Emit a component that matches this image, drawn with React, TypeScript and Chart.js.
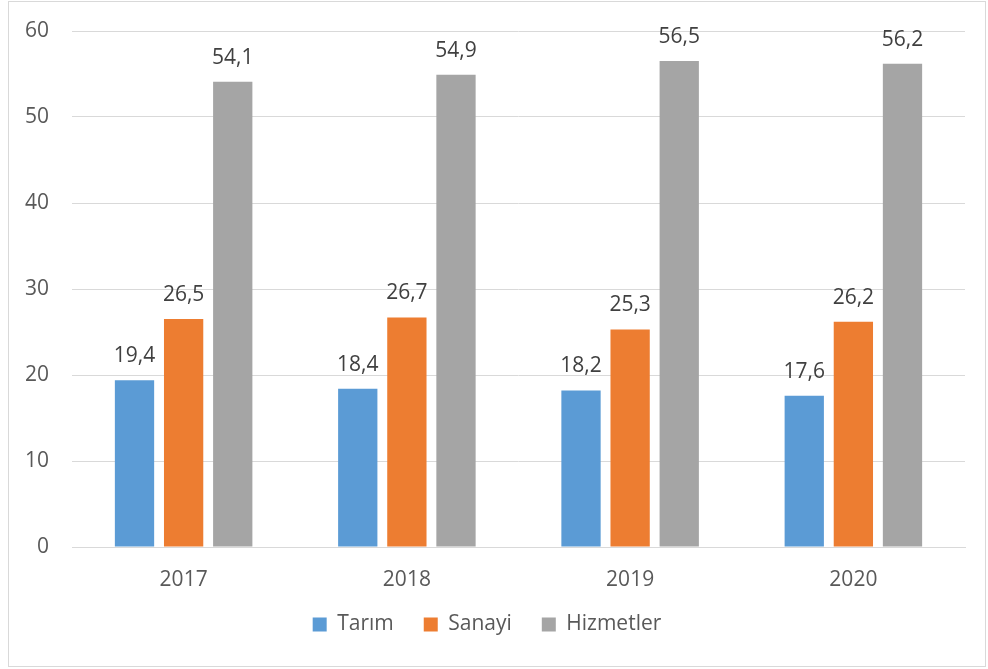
import React, { useEffect, useRef } from "react";
import { Chart, registerables } from "chart.js";

Chart.register(...registerables);

const categories = ["2017", "2018", "2019", "2020"];
const tarim = [19.4, 18.4, 18.2, 17.6];
const sanayi = [26.5, 26.7, 25.3, 26.2];
const hizmetler = [54.1, 54.9, 56.5, 56.2];
const seriesNames = ["Tarım", "Sanayi", "Hizmetler"];
const seriesColors = ["#5B9BD5", "#ED7D31", "#A5A5A5"];

const FONT = "'Open Sans', 'Noto Sans', sans-serif";

const dataLabels = {
  id: "dataLabels",
  afterDatasetsDraw(chart: any) {
    const ctx = chart.ctx;
    ctx.save();
    ctx.font = `21px ${FONT}`;
    ctx.fillStyle = "#404040";
    ctx.textAlign = "center";
    ctx.textBaseline = "alphabetic";
    chart.data.datasets.forEach((ds: any, i: number) => {
      const meta = chart.getDatasetMeta(i);
      meta.data.forEach((bar: any, j: number) => {
        const v = ds.data[j];
        ctx.fillText(String(v).replace(".", ","), bar.x, bar.y - 18);
      });
    });
    ctx.restore();
  },
};

// widen the x-axis label clip box after layout so labels aren't cut off
const unclipX = {
  id: "unclipX",
  beforeDraw(chart: any) {
    const x = chart.scales.x;
    x.bottom = x.top + 70;
  },
};

export default function App() {
  const ref = useRef<HTMLCanvasElement>(null);
  useEffect(() => {
    document.body.style.margin = "0";
    const chart = new Chart(ref.current!, {
      type: "bar",
      data: {
        labels: categories,
        datasets: [tarim, sanayi, hizmetler].map((d, i) => ({
          label: seriesNames[i],
          data: d,
          backgroundColor: seriesColors[i],
          categoryPercentage: 0.66,
          barPercentage: 0.8,
        })),
      },
      options: {
        animation: false,
        responsive: false,
        layout: { padding: { top: 29, right: 20, left: 0, bottom: 21 } },
        plugins: {
          legend: {
            position: "bottom",
            labels: {
              boxWidth: 14,
              boxHeight: 14,
              padding: 30,
              color: "#595959",
              font: { family: FONT, size: 21 },
            },
          },
          tooltip: { enabled: false },
        },
        scales: {
          x: {
            afterFit(scale: any) {
              scale.height = 37;
              scale.paddingLeft = 0;
              scale.paddingRight = 0;
            },
            grid: { display: false, drawTicks: false },
            border: { display: true, color: "#d9d9d9", width: 1 },
            ticks: { color: "#595959", font: { family: FONT, size: 21 }, padding: 20 },
          },
          y: {
            min: 0,
            max: 60,
            afterFit(scale: any) {
              scale.width = 63;
              scale.paddingTop = 0;
              scale.paddingBottom = 0;
            },
            grid: { color: "#d9d9d9", drawTicks: false, lineWidth: 1 },
            border: { display: false },
            ticks: {
              stepSize: 10,
              color: "#595959",
              font: { family: FONT, size: 21 },
              padding: 23,
            },
          },
        },
      },
      plugins: [dataLabels, unclipX],
    });
    return () => chart.destroy();
  }, []);
  return (
    <div
      style={{
        position: "absolute",
        left: 8,
        top: 1,
        width: 976,
        height: 664,
        border: "1px solid #d9d9d9",
        background: "#fff",
      }}
    >
      <canvas ref={ref} width={976} height={664} style={{ display: "block" }} />
    </div>
  );
}
